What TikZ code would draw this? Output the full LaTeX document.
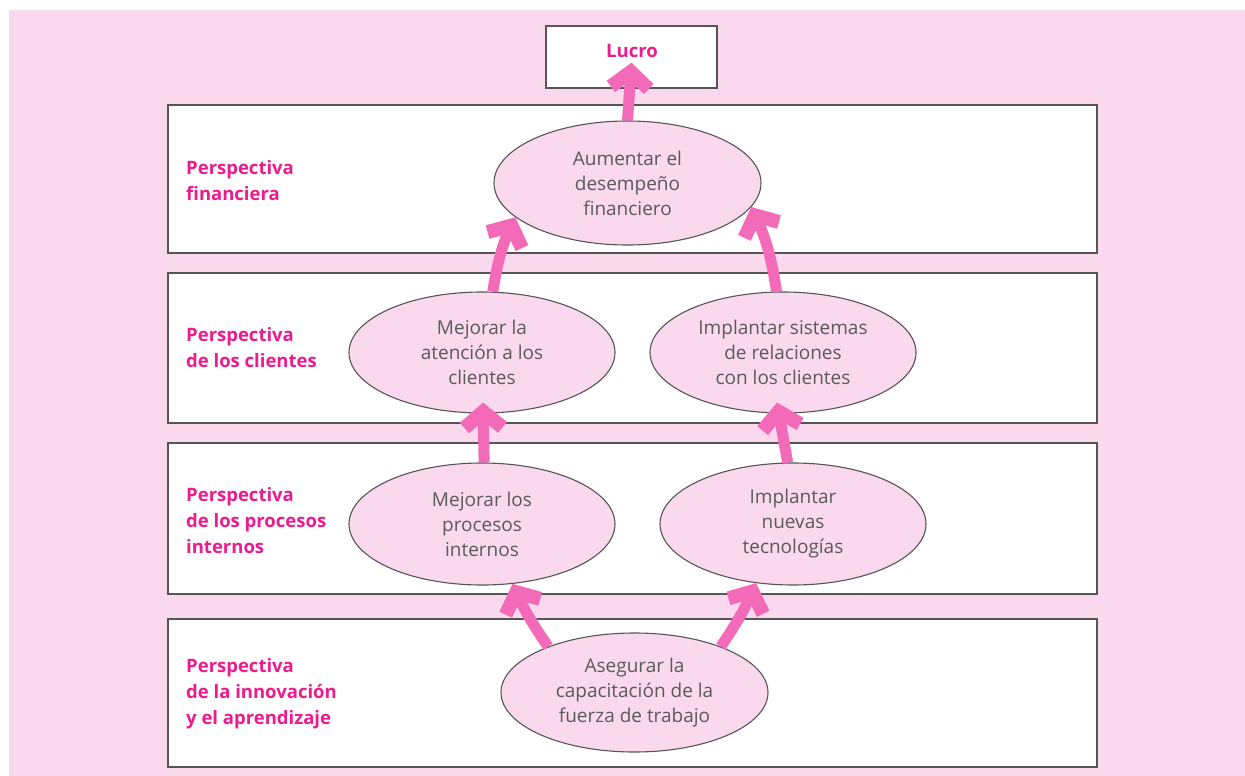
\documentclass[tikz,border=0pt]{standalone}
\usepackage{fontspec}
\setmainfont{Open Sans}
\usetikzlibrary{arrows.meta,shapes.geometric}
\definecolor{bgpink}{HTML}{FAD8EE}
\definecolor{magent}{HTML}{EC1C8E}
\definecolor{arrowpink}{HTML}{F36BB8}
\definecolor{edgegray}{HTML}{555555}
\definecolor{txtgray}{HTML}{5A5A5A}
\tikzset{
  band/.style={draw=edgegray, line width=1.3pt, fill=white, rectangle, minimum width=929pt, inner sep=0pt},
  perslabel/.style={anchor=west, align=left, text=magent, font=\fontsize{18.5}{26}\selectfont\bfseries, inner sep=0pt},
  oval/.style={ellipse, draw=edgegray, line width=1.1pt, fill=bgpink, minimum width=266pt, minimum height=122pt, inner sep=0pt, align=center, text=txtgray, font=\fontsize{19}{25}\selectfont},
  bigarrow/.style={draw=arrowpink, line width=11pt, -{Straight Barb[length=16pt,width=38pt,line width=14pt]}}
}
\begin{document}
\begin{tikzpicture}[x=1pt,y=-1pt]
\useasboundingbox (0,0) rectangle (1245,776);
\fill[white] (0,0) rectangle (1245,776);
\fill[bgpink] (9,10) rectangle (1245,776);
% bands
\node[band, minimum height=148pt] (band1) at (632.5,179) {};
\node[band, minimum height=150pt] (band2) at (632.5,348) {};
\node[band, minimum height=151pt] (band3) at (632.5,518.5) {};
\node[band, minimum height=148pt] (band4) at (632.5,693) {};
% Lucro
\node[draw=edgegray, line width=1.3pt, fill=white, rectangle, minimum width=171pt, minimum height=62pt, inner sep=0pt] (lucro) at (631.5,57) {};
\node[text=magent, font=\fontsize{18.5}{20}\selectfont\bfseries, inner sep=0pt] (lucrotext) at (632,51) {Lucro};
% labels
\node[perslabel] (l1) at (186,181) {Perspectiva\\financiera};
\node[perslabel] (l2) at (186,348) {Perspectiva\\de los clientes};
\node[perslabel] (l3) at (186,520.5) {Perspectiva\\de los procesos\\internos};
\node[perslabel] (l4) at (186,693.5) {Perspectiva\\de la innovación\\y el aprendizaje};
% ovals
\node[oval, minimum width=267pt, minimum height=124pt] (af) at (627.5,183) {Aumentar el\\desempeño\\financiero};
\node[oval, minimum height=121pt] (ma) at (482,352.5) {Mejorar la\\atención a los\\clientes};
\node[oval, minimum height=121pt] (is) at (783,352.5) {Implantar sistemas\\de relaciones\\con los clientes};
\node[oval] (mp) at (482,524) {Mejorar los\\procesos\\internos};
\node[oval] (in) at (793,524) {Implantar\\nuevas\\tecnologías};
\node[oval, minimum width=267pt, minimum height=119pt] (as) at (634.5,692.5) {Asegurar la\\capacitación de la\\fuerza de trabajo};
% arrows
\draw[bigarrow] (af.north) -- ([yshift=26pt]lucro.south);
\draw[bigarrow] (ma.80) to[bend left=8] (af.197);
\draw[bigarrow] (is.96) to[bend right=8] (af.349);
\draw[bigarrow] (mp.88) -- ([xshift=1pt,yshift=11pt]ma.south);
\draw[bigarrow] (in.95) -- ([xshift=-6pt,yshift=11pt]is.south);
\draw[bigarrow] (as.152) to[bend left=5] (mp.297);
\draw[bigarrow] (as.28) to[bend right=5] (in.238);
\end{tikzpicture}
\end{document}
